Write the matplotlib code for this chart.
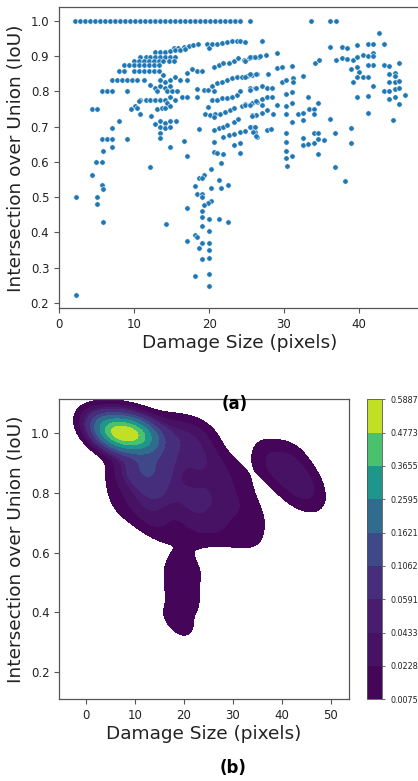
import numpy as np
import matplotlib
matplotlib.use("Agg")
import matplotlib.pyplot as plt

# ---------------- data: (damage size, IoU, multiplicity) ----------------
top_row = [(2.14, 1.0, 6), (2.81, 1.0, 18), (3.47, 1.0, 38), (4.14, 1.0, 59), (4.81, 1.0, 77),
           (5.47, 1.0, 88), (6.14, 1.0, 91), (6.80, 1.0, 93), (7.47, 1.0, 92), (8.13, 1.0, 91),
           (8.80, 1.0, 90), (9.47, 1.0, 88), (10.13, 1.0, 84), (10.80, 1.0, 73), (11.47, 1.0, 59),
           (12.13, 1.0, 45), (12.80, 1.0, 29), (13.47, 1.0, 18), (14.13, 1.0, 11), (14.80, 1.0, 8),
           (15.47, 1.0, 8), (16.13, 1.0, 7), (16.80, 1.0, 6), (17.47, 1.0, 6), (18.13, 1.0, 6),
           (18.80, 1.0, 6), (19.47, 1.0, 6), (20.13, 1.0, 5), (20.80, 1.0, 5), (21.47, 1.0, 5),
           (22.13, 1.0, 5), (22.80, 1.0, 4), (23.47, 1.0, 4), (24.13, 1.0, 4), (25.40, 1.0, 2),
           (33.6, 1.0, 1), (36.2, 1.0, 1), (36.9, 1.0, 1)]

upper_arc = [(15.3, .922, 5), (15.9, .924, 5), (16.6, .927, 5), (17.3, .929, 5), (17.9, .931, 5),
             (18.5, .934, 5), (19.7, .935, 5), (20.0, .922, 5), (20.4, .935, 5), (21.0, .936, 5),
             (21.7, .938, 5), (22.4, .939, 5), (23.0, .942, 5), (23.7, .942, 5), (24.1, .944, 5),
             (24.8, .939, 3), (27.0, .944, 2)]

dense_cluster = [(12.8, .911, 5), (13.5, .911, 5), (14.1, .911, 5), (14.8, .915, 5), (15.5, .918, 5),
                 (16.1, .918, 5), (16.8, .920, 5),
                 (10.8, .899, 5), (11.5, .899, 5), (12.1, .899, 5), (12.8, .899, 5), (13.5, .899, 5),
                 (14.1, .899, 5), (14.8, .899, 5), (15.5, .899, 5),
                 (9.9, .887, 5), (10.6, .887, 5), (11.3, .887, 5), (11.9, .887, 5), (12.6, .887, 5),
                 (13.3, .887, 5), (13.9, .887, 5), (14.6, .887, 5), (15.3, .887, 5),
                 (8.6, .874, 5), (9.3, .874, 5), (9.9, .874, 5), (10.6, .874, 5), (11.3, .874, 5),
                 (11.9, .874, 5), (12.6, .874, 5), (13.3, .874, 5),
                 (7.9, .858, 5), (8.6, .858, 5), (9.9, .858, 5), (10.6, .858, 5), (11.3, .858, 5),
                 (11.9, .858, 5), (12.6, .858, 5), (13.3, .858, 5),
                 (17.0, .853, 3), (17.7, .865, 3), (18.4, .859, 3), (19.0, .858, 3)]

middle_group = [(7.0, .832, 3), (7.7, .832, 3), (8.4, .832, 3), (9.0, .832, 3), (9.7, .832, 3),
                (10.4, .832, 3), (11.3, .832, 3),
                (13.9, .846, 3), (13.5, .832, 3), (14.1, .827, 3), (14.8, .832, 3), (15.5, .840, 3),
                (16.1, .832, 3), (17.0, .832, 3),
                (12.1, .818, 3), (12.8, .809, 3), (13.5, .815, 3), (14.1, .809, 3), (14.8, .815, 3),
                (13.0, .802, 3), (14.4, .800, 3), (15.0, .800, 3), (15.7, .800, 3),
                (10.8, .777, 3), (11.5, .777, 3), (12.1, .777, 3), (12.8, .777, 3), (13.5, .777, 3),
                (14.1, .777, 3), (14.8, .783, 3), (15.5, .777, 3), (16.4, .783, 3), (17.0, .783, 3),
                (10.6, .773, 3), (10.1, .760, 3), (10.4, .754, 3), (9.5, .750, 3), (10.8, .735, 3),
                (13.0, .750, 3), (13.7, .754, 3), (14.4, .766, 3), (14.8, .758, 3), (14.1, .752, 3),
                (12.2, .730, 3), (13.5, .717, 3), (14.1, .711, 3), (14.8, .717, 3), (15.6, .717, 3),
                (12.8, .707, 2), (13.5, .698, 2), (14.1, .695, 2), (14.8, .698, 2), (13.5, .682, 2),
                (13.5, .668, 1), (16.6, .660, 1), (14.8, .643, 1), (17.0, .617, 1)]

right_bands = [(18.4, .806, 3), (18.4, .785, 3),
               (19.3, .804, 3), (19.9, .804, 3), (20.4, .815, 3), (20.6, .800, 3), (21.0, .823, 3),
               (21.7, .827, 3), (22.4, .832, 3), (23.0, .837, 3), (23.7, .840, 3), (24.4, .842, 2),
               (25.0, .844, 2), (25.7, .846, 2), (26.4, .849, 2),
               (20.6, .870, 3), (21.3, .875, 3), (21.9, .880, 3), (22.6, .882, 3), (23.3, .886, 3),
               (23.9, .894, 3), (24.6, .889, 2), (25.3, .894, 2), (25.9, .897, 2), (26.6, .899, 2),
               (20.4, .775, 3), (21.0, .775, 3), (21.7, .780, 3), (22.4, .782, 3), (23.0, .785, 3),
               (23.7, .790, 3), (24.1, .800, 3), (25.5, .809, 2), (26.1, .809, 2),
               (19.5, .737, 3), (20.1, .733, 3), (20.8, .737, 3), (21.5, .737, 3), (22.1, .742, 3),
               (22.8, .747, 3), (23.3, .754, 3), (24.4, .758, 2), (24.8, .764, 2), (25.7, .766, 2),
               (26.4, .771, 2), (25.7, .733, 2),
               (19.9, .756, 3), (20.6, .728, 3), (21.3, .695, 2), (21.9, .700, 2), (22.4, .704, 2),
               (23.3, .714, 2), (23.9, .723, 2),
               (18.6, .692, 2), (20.6, .690, 2), (21.9, .671, 2), (22.6, .676, 2), (23.3, .680, 2),
               (24.1, .685, 2), (24.8, .688, 2), (25.7, .700, 2), (26.1, .685, 2),
               (20.6, .657, 1), (23.3, .647, 1), (24.1, .654, 1), (20.6, .628, 1), (21.0, .624, 1),
               (21.9, .622, 1), (24.1, .626, 1), (26.4, .670, 1)]

far_bands = [(24.8, .887, 2), (25.4, .897, 2), (26.1, .897, 2), (26.8, .900, 2), (27.6, .903, 2),
             (29.1, .908, 2),
             (24.8, .840, 2), (25.4, .850, 2), (26.2, .850, 2), (27.8, .849, 2), (29.0, .867, 2),
             (29.7, .870, 2), (31.1, .872, 2), (32.5, .844, 2), (34.2, .880, 1), (34.7, .889, 1),
             (25.4, .804, 2), (26.2, .811, 2), (27.0, .816, 2), (27.7, .809, 2), (28.4, .809, 2),
             (29.7, .827, 2), (30.3, .832, 2), (31.2, .837, 2), (31.2, .827, 2), (30.3, .794, 2),
             (31.1, .799, 2), (33.2, .783, 2), (34.5, .766, 1),
             (24.8, .761, 2), (25.5, .761, 2), (26.2, .773, 2), (27.0, .778, 2), (27.7, .783, 2),
             (28.4, .785, 2), (27.0, .761, 2), (27.7, .747, 2), (27.0, .740, 2), (26.3, .733, 2),
             (25.7, .730, 2), (28.5, .735, 2), (29.0, .761, 2), (30.3, .758, 2), (31.1, .768, 2),
             (30.3, .737, 2), (31.1, .714, 2), (31.9, .737, 2), (32.5, .739, 2), (32.5, .718, 2),
             (33.3, .750, 2), (34.0, .750, 1), (34.0, .735, 1),
             (25.4, .700, 2), (26.1, .700, 2), (25.9, .685, 2), (26.2, .673, 2), (27.7, .690, 2),
             (28.3, .692, 2),
             (30.3, .682, 2), (30.3, .657, 2), (32.5, .669, 2), (32.5, .647, 2), (33.2, .650, 1),
             (34.0, .654, 1), (34.0, .682, 1), (34.6, .682, 1), (34.6, .664, 1), (35.4, .662, 1),
             (30.3, .631, 1), (30.3, .612, 1), (31.1, .618, 1), (34.6, .622, 1), (36.1, .723, 1),
             (36.8, .682, 1), (38.9, .695, 1), (38.9, .654, 1), (30.4, .589, 1), (36.8, .586, 1),
             (38.2, .547, 1)]

right_cluster = [(36.2, .927, 3), (37.7, .927, 3), (38.4, .922, 3), (39.7, .932, 3), (41.2, .934, 2),
                 (41.9, .935, 2), (42.7, .965, 2), (43.3, .934, 2),
                 (36.9, .889, 3), (37.7, .896, 3), (38.4, .891, 3), (39.2, .889, 2), (39.7, .899, 3),
                 (40.5, .903, 3), (41.2, .901, 3), (41.9, .910, 3), (41.9, .900, 3), (41.9, .875, 3),
                 (41.2, .875, 3), (43.3, .875, 3), (44.0, .873, 3), (45.4, .880, 2),
                 (39.0, .865, 3), (39.7, .868, 3), (40.0, .856, 3), (39.7, .842, 2), (40.5, .842, 2),
                 (41.2, .840, 3), (39.2, .827, 1), (41.9, .815, 3), (44.0, .849, 3), (44.8, .853, 3),
                 (44.8, .844, 3), (44.0, .827, 3), (44.8, .827, 3), (45.4, .829, 3), (43.3, .802, 3),
                 (44.0, .802, 3), (44.8, .806, 3), (45.3, .809, 3), (44.0, .778, 2), (44.8, .783, 3),
                 (46.1, .790, 3), (45.4, .764, 2), (39.7, .783, 1), (41.2, .788, 1), (41.2, .740, 1),
                 (44.6, .720, 1)]

low_tail = [(21.6, .597, 2), (20.3, .581, 2), (19.35, .564, 2), (18.7, .555, 2), (19.0, .553, 2),
            (21.3, .549, 2), (22.5, .535, 2), (21.6, .526, 2), (20.3, .526, 2), (18.1, .531, 2),
            (18.4, .508, 2), (19.0, .510, 2), (19.0, .500, 2), (20.3, .489, 2), (19.9, .484, 2),
            (19.35, .477, 2), (17.1, .469, 2), (19.0, .460, 2), (19.0, .444, 2), (20.0, .439, 2),
            (21.3, .439, 2), (22.5, .430, 2), (19.0, .417, 2), (20.0, .404, 2), (18.1, .393, 2),
            (18.4, .387, 2), (17.1, .375, 2), (19.0, .370, 2), (20.0, .369, 2), (18.7, .355, 2),
            (20.0, .350, 2), (19.0, .325, 1), (20.0, .328, 1), (18.1, .275, 1), (20.0, .282, 1),
            (20.0, .247, 1)]

left_sparse = [(5.7, .800, 2), (6.4, .800, 2), (7.0, .800, 2), (9.0, .800, 2), (4.4, .750, 2),
               (5.0, .750, 2), (7.0, .695, 1), (7.9, .716, 1), (5.7, .666, 1), (6.4, .666, 1),
               (7.0, .666, 1), (9.0, .666, 1), (5.8, .632, 1), (7.0, .643, 1), (4.95, .600, 1),
               (5.7, .600, 1), (4.3, .564, 1), (12.1, .584, 1), (5.7, .533, 1), (5.8, .522, 1),
               (2.2, .500, 1), (5.0, .500, 1), (5.0, .480, 1), (5.8, .428, 1), (2.2, .223, 1),
               (14.3, .424, 1)]

# colour-bar levels (density) as printed on the reference colour bar
level_labels = ["0.0075", "0.0228", "0.0433", "0.0591", "0.1062",
                "0.1621", "0.2595", "0.3655", "0.4773", "0.5887"]

x_label = "Damage Size (pixels)"
y_label = "Intersection over Union (IoU)"

# ---------------- assemble ----------------
groups = [top_row, upper_arc, dense_cluster, middle_group, right_bands,
          far_bands, right_cluster, low_tail, left_sparse]
pts = np.array([p for g in groups for p in g], dtype=float)
xs, ys, ns = pts[:, 0], pts[:, 1], pts[:, 2]

# ---------------- weighted gaussian KDE ----------------
bw_x, bw_y = 2.56, 0.038
w = ns / ns.sum()
mx, my = np.sum(w * xs), np.sum(w * ys)
cxy = np.sum(w * (xs - mx) * (ys - my))
sx = np.sqrt(np.sum(w * (xs - mx) ** 2))
sy = np.sqrt(np.sum(w * (ys - my) ** 2))
rho = cxy / (sx * sy)

cut = 3
gx = np.linspace(xs.min() - cut * bw_x, xs.max() + cut * bw_x, 200)
gy = np.linspace(ys.min() - cut * bw_y, ys.max() + cut * bw_y, 200)
GX, GY = np.meshgrid(gx, gy)
dx = (GX[..., None] - xs) / bw_x
dy = (GY[..., None] - ys) / bw_y
q = (dx ** 2 - 2 * rho * dx * dy + dy ** 2) / (1 - rho ** 2)
norm = 1.0 / (2 * np.pi * bw_x * bw_y * np.sqrt(1 - rho ** 2))
Z = norm * np.sum(w * np.exp(-0.5 * q), axis=-1)

levels = [float(v) for v in level_labels]
levels[-1] = max(levels[-1], Z.max() * 1.0001)

# ---------------- figure ----------------
W, H = 418, 781
fig = plt.figure(figsize=(W / 100, H / 100), dpi=100)

txt = "#222222"
spine_c = "#555555"
tick_fs = 8.5
lab_fs = 13.3


def style(ax):
    for s in ax.spines.values():
        s.set_color(spine_c)
        s.set_linewidth(0.9)
    ax.tick_params(colors=spine_c, labelcolor=txt, labelsize=tick_fs, length=3.5, width=0.8)


ax1 = fig.add_axes([59 / W, 1 - 308.3 / H, (421 - 59) / W, (308.3 - 7.3) / H])
ax1.scatter(xs, ys, s=15, c="#1f77b4", edgecolors="white", linewidths=0.4, zorder=3)
ax1.set_xlabel(x_label, fontsize=lab_fs, color=txt, labelpad=2)
ax1.set_ylabel(y_label, fontsize=lab_fs, color=txt, labelpad=4)
style(ax1)

ax2 = fig.add_axes([59.3 / W, 1 - 699.3 / H, (349 - 59.3) / W, (699.3 - 399.3) / H])
cs = ax2.contourf(GX, GY, Z, levels=levels, cmap="viridis")
ax2.set_xticks([0, 10, 20, 30, 40, 50])
ax2.set_yticks([0.2, 0.4, 0.6, 0.8, 1.0])
ax2.set_xlabel(x_label, fontsize=lab_fs, color=txt, labelpad=2)
ax2.set_ylabel(y_label, fontsize=lab_fs, color=txt, labelpad=4)
style(ax2)

cax = fig.add_axes([367 / W, 1 - 699.3 / H, 15 / W, (699.3 - 399.3) / H])
cb = fig.colorbar(cs, cax=cax)
cb.set_ticks(levels)
cb.set_ticklabels(level_labels)
cb.ax.tick_params(labelsize=5.8, colors=spine_c, labelcolor=txt, length=2.5, width=0.6)
cb.outline.set_edgecolor(spine_c)
cb.outline.set_linewidth(0.6)

fig.text(235 / W, 1 - 404 / H, "(a)", ha="center", va="center", fontsize=12, fontweight="bold", color="black")
fig.text(233 / W, 1 - 768 / H, "(b)", ha="center", va="center", fontsize=12, fontweight="bold", color="black")

fig.savefig("out.png", dpi=100)
